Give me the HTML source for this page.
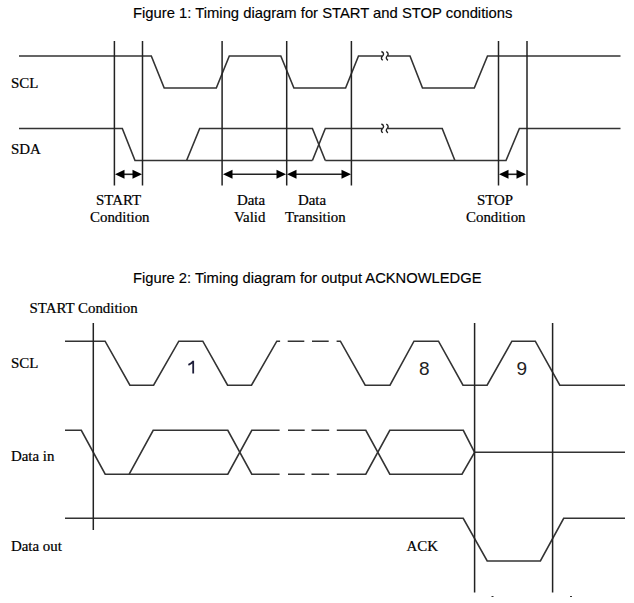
<!DOCTYPE html>
<html><head><meta charset="utf-8">
<style>
html,body{margin:0;padding:0;background:#fff;}
body{width:634px;height:603px;overflow:hidden;position:relative;}
svg{position:absolute;left:0;top:0;}
.t{font-family:"Liberation Sans",sans-serif;font-size:14.8px;fill:#000;stroke:#000;stroke-width:0.15px;}
.s{font-family:"Liberation Serif",serif;font-size:14.9px;fill:#000;stroke:#000;stroke-width:0.22px;}
.d{font-family:"Liberation Sans",sans-serif;font-size:19px;fill:#222;}
.w{fill:none;stroke:#333;stroke-width:1.6;stroke-linejoin:miter;}
.v{stroke:#222;stroke-width:1.5;}
.a{fill:#000;}
</style></head>
<body>
<svg width="634" height="603" viewBox="0 0 634 603">
<!-- Figure 1 -->
<text class="t" x="133" y="18.4">Figure 1: Timing diagram for START and STOP conditions</text>
<text class="s" x="11" y="88">SCL</text>
<text class="s" x="11" y="154">SDA</text>

<!-- SCL -->
<path class="w" d="M19,56 H151.3 L164.2,88 H216.3 L229.3,56 H280.8 L293.9,88 H345.6 L358.5,56 H382 M388,56 H410 L422.5,88 H474.3 L487.5,56 H620.5"/>
<!-- SDA -->
<path class="w" d="M19,128.5 H122.3 L135,160.5 H312.4 M325.3,160.5 H506 L519.4,128.5 H620.5"/>
<path class="w" d="M186.6,160.5 L199.7,128.5 H312.4 L325.3,160.5"/>
<path class="w" d="M312.4,160.5 L325.3,128.5 H382 M388,128.5 H442.2 L454.9,160.5"/>
<!-- break symbols -->
<path class="w" style="stroke-width:1.4;stroke:#222" d="M381.4,51.5 C384.6,53 383.6,55 382.5,56 C381,57.5 381,59 382.8,60.3 M386.3,51.7 C388.8,53 388.4,55 387.2,56 C385.8,57.5 386,59 387.9,60.3"/>
<path class="w" style="stroke-width:1.4;stroke:#222" d="M381.4,124.0 C384.6,125.5 383.6,127.5 382.5,128.5 C381,130.0 381,131.5 382.8,132.8 M386.3,124.2 C388.8,125.5 388.4,127.5 387.2,128.5 C385.8,130.0 386,131.5 387.9,132.8"/>

<!-- vertical lines fig1 -->
<g class="v">
<line x1="114.4" y1="41" x2="114.4" y2="185.5"/>
<line x1="142.5" y1="41" x2="142.5" y2="185.5"/>
<line x1="222.1" y1="41" x2="222.1" y2="185.5"/>
<line x1="286.7" y1="41" x2="286.7" y2="185.5"/>
<line x1="351.4" y1="41" x2="351.4" y2="185.5"/>
<line x1="498.5" y1="41" x2="498.5" y2="185.5"/>
<line x1="527" y1="41" x2="527" y2="185.5"/>
</g>
<!-- arrows -->
<g class="v" style="stroke-width:1.6">
<line x1="120" y1="174.3" x2="137" y2="174.3"/>
<line x1="228" y1="174.3" x2="281" y2="174.3"/>
<line x1="292" y1="174.3" x2="346" y2="174.3"/>
<line x1="504" y1="174.3" x2="521" y2="174.3"/>
</g>
<g class="a">
<path d="M115,174.3 L124.5,169.8 L124.5,178.8Z"/>
<path d="M142,174.3 L132.5,169.8 L132.5,178.8Z"/>
<path d="M223,174.3 L232.5,169.8 L232.5,178.8Z"/>
<path d="M286,174.3 L276.5,169.8 L276.5,178.8Z"/>
<path d="M287,174.3 L296.5,169.8 L296.5,178.8Z"/>
<path d="M351,174.3 L341.5,169.8 L341.5,178.8Z"/>
<path d="M499,174.3 L508.5,169.8 L508.5,178.8Z"/>
<path d="M526,174.3 L516.5,169.8 L516.5,178.8Z"/>
</g>
<text class="s" x="96" y="205">START</text>
<text class="s" x="90" y="221.5">Condition</text>
<text class="s" x="237" y="205">Data</text>
<text class="s" x="234" y="221.5">Valid</text>
<text class="s" x="298" y="205">Data</text>
<text class="s" x="285" y="221.5">Transition</text>
<text class="s" x="477" y="205">STOP</text>
<text class="s" x="466" y="221.5">Condition</text>

<!-- Figure 2 -->
<text class="t" x="133" y="283.3" style="font-size:14.72px">Figure 2: Timing diagram for output ACKNOWLEDGE</text>
<text class="s" x="29.5" y="312.8">START Condition</text>
<text class="s" x="11" y="367.8">SCL</text>
<text class="s" x="11" y="460.8">Data in</text>
<text class="s" x="11" y="551.2">Data out</text>
<text class="s" x="406.5" y="551">ACK</text>
<path d="M193.2,360.7 V373.6 M193.2,361.2 C192,363 190.3,364 188.4,364.8" fill="none" stroke="#1e1e3a" stroke-width="1.8"/>
<text class="d" x="419" y="374.6">8</text>
<text class="d" x="516.5" y="374.6">9</text>

<!-- SCL fig2 -->
<path class="w" d="M65,341.2 H105.1 L129.9,385.2 H153.6 L178.8,341.2 H202.8 L227.6,385.2 H251.5 L276.8,341.2 H280.1 M287.7,341.2 H304.3 M312,341.2 H328.7 M336.6,341.2 H340.4 L365.2,385.2 H390 L414,341.2 H438.5 L463,385.2 H487.1 L511.9,341.2 H535.3 L559.8,385.2 H625"/>
<!-- Data in -->
<path class="w" d="M65,430.3 H81.3 L105.2,474.2 H227.8 L251.8,430.3 H279.6 M288,430.3 H304.7 M311.5,430.3 H329.2 M336.8,430.3 H365.8 L389.8,474.2 H462 L474.6,452.3 H625"/>
<path class="w" d="M129.2,474.2 L153.2,430.3 H227.8 L251.8,474.2 H279.6 M288,474.2 H304.7 M311.5,474.2 H329.2 M336.8,474.2 H365.8 L389.8,430.3 H463.3 L474.6,452.3"/>
<!-- Data out -->
<path class="w" d="M65,518.3 H463.2 L487.2,561 H540.4 L563.7,518.3 H625"/>
<!-- vertical lines fig2 -->
<g class="v">
<line x1="93.3" y1="323" x2="93.3" y2="530"/>
<line x1="474.6" y1="323" x2="474.6" y2="592.5"/>
<line x1="552.6" y1="323" x2="552.6" y2="592.5"/>
</g>
<rect x="491.5" y="596" width="2" height="1" fill="#333"/>
<rect x="570" y="596" width="2" height="1" fill="#333"/>
</svg>
</body></html>
